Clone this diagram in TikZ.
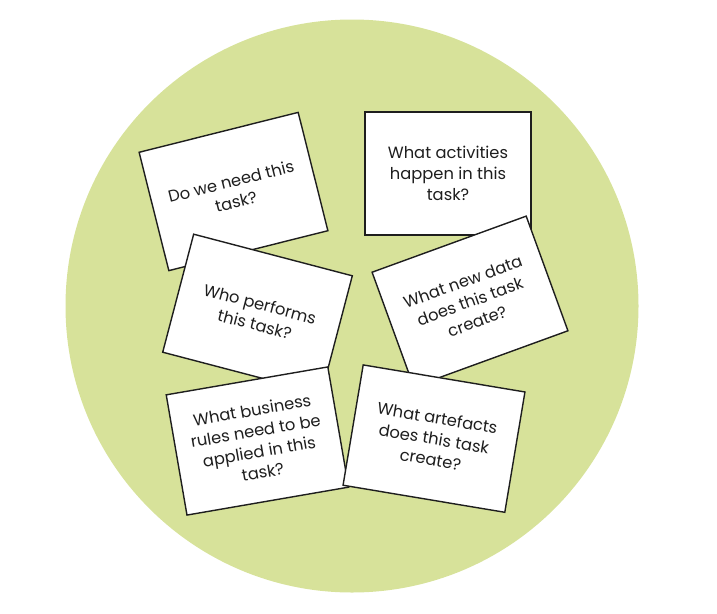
\documentclass[tikz,border=0pt]{standalone}
\usepackage{fontspec}
\setmainfont{Poppins}
\definecolor{bgreen}{RGB}{215,226,154}
\definecolor{ink}{RGB}{30,30,30}
\begin{document}
\begin{tikzpicture}[x=1pt,y=-1pt,
  card/.style={draw=ink,line width=1.4pt,fill=white,minimum width=164pt,minimum height=122pt,
    inner sep=0pt,align=center,text=ink,font=\fontsize{16.3}{21}\selectfont}]
\useasboundingbox (0,0) rectangle (717,613);
\fill[bgreen] (352,306) circle (286.5pt);
\node[card,rotate=14.1] (c1) at (233.5,191.5) {Do we need this\\task?};
\node[card,minimum width=166pt,minimum height=123pt] (c2) at (448,173.5) {What activities\\happen in this\\task?};
\node[card,rotate=-14.7] (c4) at (257.5,314) {Who performs\\this task?};
\node[card,rotate=20] (c3) at (470,301.5) {What new data\\does this task\\create?};
\node[card,rotate=9.8] (c5) at (257.4,441) {What business\\rules need to be\\applied in this\\task?};
\node[card,rotate=-9.5] (c6) at (434,438.6) {What artefacts\\does this task\\create?};
\end{tikzpicture}
\end{document}
